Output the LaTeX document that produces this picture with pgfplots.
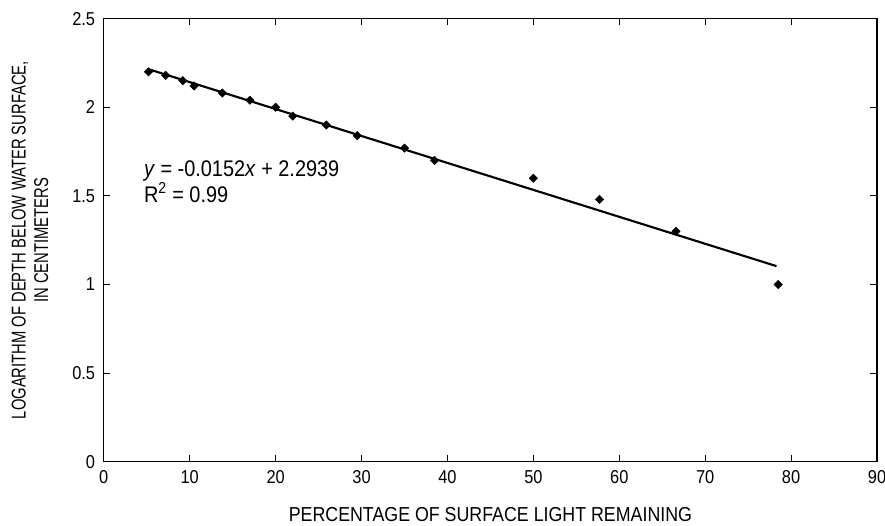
\documentclass[border=0pt]{standalone}
\usepackage{fontspec}
\setmainfont{Liberation Sans}[FakeStretch=0.88]
\newfontfamily\condfont{Liberation Sans}[FakeStretch=0.74]
\usepackage{pgfplots}
\pgfplotsset{compat=1.18}

\begin{document}
\begin{tikzpicture}
\begin{axis}[
    name=ax,
    scale only axis,
    width=581pt, height=333pt,
    xmin=0, xmax=90, ymin=0, ymax=2.5,
    xtick={0,10,...,90},
    ytick={0,0.5,1,1.5,2,2.5},
    tick align=inside,
    major tick length=5pt,
    axis line style={line width=1pt},
    every tick/.style={black, line width=0.8pt},
    tick label style={font=\fontsize{14}{16}\selectfont},
    yticklabel style={xshift=-3pt},
    xticklabel style={yshift=-3pt},
    /pgf/number format/assume math mode=true,
    xlabel={PERCENTAGE OF SURFACE LIGHT REMAINING},
    ylabel={LOGARITHM OF DEPTH BELOW WATER SURFACE,\\IN CENTIMETERS},
    ylabel style={align=center, font=\condfont\fontsize{15}{17}\selectfont,
        at={([xshift=-55.5pt]axis description cs:0,0.5)}, anchor=center},
    xlabel style={font=\fontsize{15.2}{17}\selectfont,
        at={([yshift=-45pt]axis description cs:0.5,0)}, anchor=base},
    clip=false,
]
\addplot[only marks, mark=square*, mark size=2.2pt, black,
    every mark/.append style={rotate=45}] coordinates {
    (5.2,2.20) (7.2,2.18) (9.2,2.15) (10.5,2.12) (13.8,2.08) (17.0,2.04)
    (20.0,2.00) (22.0,1.95) (25.9,1.90) (29.5,1.84) (35.0,1.77) (38.5,1.70)
    (50.0,1.60) (57.7,1.48) (66.6,1.30) (78.5,1.00)
};
\addplot[black, line width=1.6pt] coordinates {(5.3,2.2133) (78.3,1.1037)};
\node[anchor=base west, inner sep=0pt, font=\fontsize{17}{19}\selectfont]
    at (axis cs:4.65,1.61) {\textit{y} = -0.0152\textit{x} + 2.2939};
\node[anchor=base west, inner sep=0pt, font=\fontsize{17}{19}\selectfont]
    at (axis cs:4.65,1.465) {R\textsuperscript{2} = 0.99};
\end{axis}
\pgfresetboundingbox
\path ([shift={(-78pt,-47.5pt)}]ax.south west) rectangle ([shift={(6pt,14pt)}]ax.north east);
\end{tikzpicture}
\end{document}
